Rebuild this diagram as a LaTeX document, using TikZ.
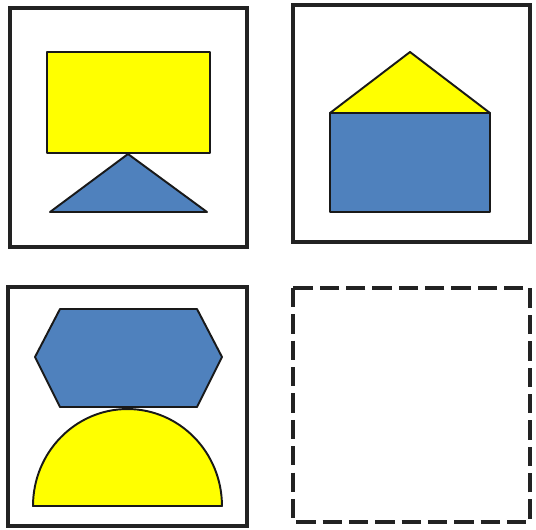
\documentclass[tikz,border=0pt]{standalone}
\usepackage{xcolor}
\usepackage{tikz}
\usetikzlibrary{shapes.geometric, positioning}
\definecolor{piecefill}{HTML}{FFFF00}
\definecolor{blockfill}{HTML}{4F81BD}
\definecolor{frameline}{HTML}{222222}

\begin{document}
\begin{tikzpicture}[x=0.02cm, y=-0.02cm]
    \tikzstyle{panel} = [draw=frameline, line width=2.2pt]
    \tikzstyle{piece} = [draw=black!90, line width=1.1pt, line join=round]
    \useasboundingbox (0,0) rectangle (536,529);

    % top left: rectangle on a triangle
    \draw [panel] (10,8) rectangle (247,247);
    \draw [piece, fill=piecefill] (47,52) rectangle (210,153);
    \draw [piece, fill=blockfill] (128,154) -- (207,212) -- (50,212) -- cycle;

    % top right: triangle on a rectangle
    \draw [panel] (293,5) rectangle (530,242);
    \draw [piece, fill=blockfill] (330,113) rectangle (490,212);
    \draw [piece, fill=piecefill] (330,113) -- (410,52) -- (490,113) -- cycle;

    % bottom left: hexagon on a half disc
    \draw [panel] (8,287) rectangle (247,526);
    \draw [piece, fill=blockfill] (60,309) -- (197,309) -- (222,357) -- (197,407) -- (60,407) -- (35,357) -- cycle;
    \draw [piece, fill=piecefill] (33,506) arc [start angle=180, end angle=0, x radius=1.89cm, y radius=1.94cm] -- cycle;

    % bottom right: empty
    \draw [panel, dash pattern=on 11pt off 4pt] (293,288) rectangle (530,522);
\end{tikzpicture}
\end{document}
